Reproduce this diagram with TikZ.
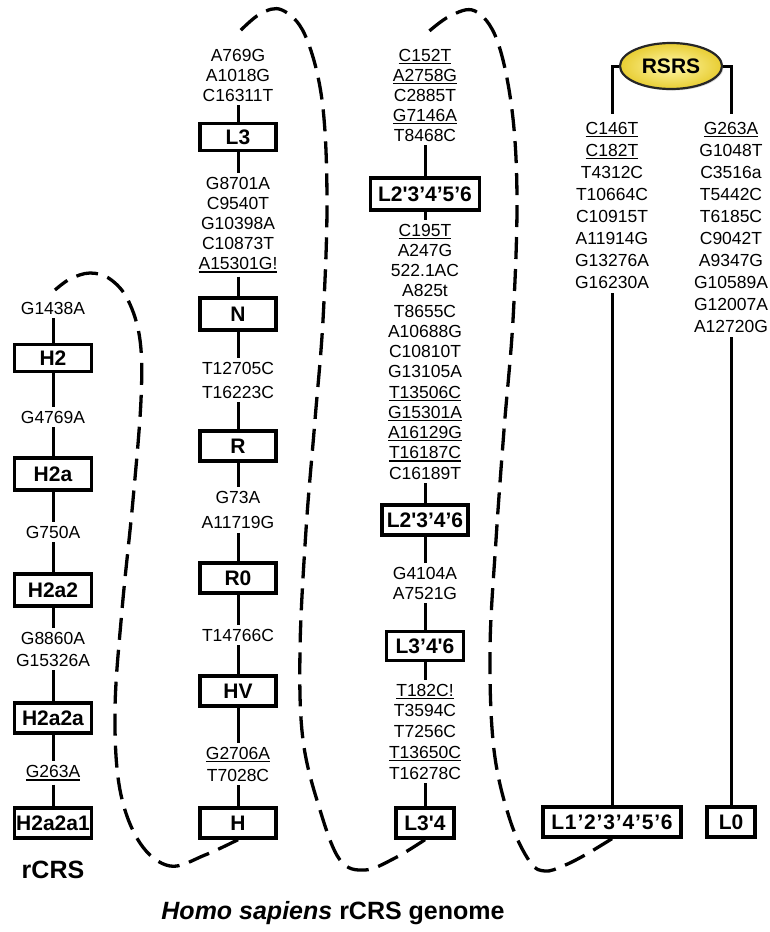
\documentclass[tikz,border=0pt]{standalone}
\usepackage{fontspec}
\newfontfamily\arial{Liberation Sans}
\usetikzlibrary{shapes.geometric,shadows}
\definecolor{ellin}{RGB}{255,248,170}
\definecolor{ellout}{RGB}{232,205,50}
\newsavebox\ulbox
\newcommand\uln[1]{\sbox\ulbox{#1}\rlap{\rule[-2.8pt]{\wd\ulbox}{1.2pt}}\usebox\ulbox}
\begin{document}
\begin{tikzpicture}[x=1pt,y=-1pt,
  mut/.style={font=\arial\fontsize{17.5}{20.3}\selectfont, align=center, inner sep=4pt},
  mutsp/.style={mut, font=\arial\fontsize{17.5}{#1}\selectfont},
  hg/.style={draw, line width=3.3pt, font=\arial\bfseries\fontsize{21}{24}\selectfont, inner sep=0pt, minimum height=30pt},
  conn/.style={line width=3pt},
  encl/.style={line width=3.3pt, dash pattern=on 22pt off 10pt, line cap=butt},
]
\useasboundingbox (0,0) rectangle (769,932);

% column 1
\node[mut] (a1) at (53,308) {G1438A};
\node[hg, minimum width=77pt, minimum height=27pt] (H2) at (53,358) {H2};
\node[mut] (a2) at (53,417) {G4769A};
\node[hg, minimum width=77pt, minimum height=32pt] (H2a) at (53,474) {H2a};
\node[mut] (a3) at (53,532) {G750A};
\node[hg, minimum width=77pt, minimum height=32pt] (H2a2) at (53,590) {H2a2};
\node[mutsp=22] (a4) at (53,649) {G8860A\\G15326A};
\node[hg, minimum width=77pt] (H2a2a) at (53,718) {H2a2a};
\node[mut] (a5) at (53,773) {\uln{G263A}};
\node[hg, minimum width=77pt] (H2a2a1) at (53,823) {H2a2a1};
\node[font=\arial\bfseries\fontsize{25}{28}\selectfont] (rcrs) at (53,870) {rCRS};

% column 2
\node[mutsp=20] (b1) at (238,75) {A769G\\A1018G\\C16311T};
\node[hg, minimum width=76pt, minimum height=27pt] (L3) at (238,137) {L3};
\node[mutsp=20] (b2) at (238,225) {G8701A\\C9540T\\G10398A\\C10873T\\\uln{A15301G!}};
\node[hg, minimum width=76pt, minimum height=32pt] (N) at (238,314) {N};
\node[mutsp=24] (b3) at (238,380) {T12705C\\T16223C};
\node[hg, minimum width=76pt] (R) at (238,446) {R};
\node[mutsp=25] (b4) at (238,510) {G73A\\A11719G};
\node[hg, minimum width=76pt] (R0) at (238,578) {R0};
\node[mut] (b5) at (238,635) {T14766C};
\node[hg, minimum width=76pt] (HV) at (238,691) {HV};
\node[mutsp=22] (b6) at (238,764) {\uln{G2706A}\\T7028C};
\node[hg, minimum width=76pt] (H) at (238,823) {H};

% column 3
\node[mutsp=20] (c1) at (425,95) {\uln{C152T}\\\uln{A2758G}\\C2885T\\\uln{G7146A}\\T8468C};
\node[hg, minimum width=109pt, minimum height=32pt] (L23456) at (425,194) {L2'3’4’5’6};
\node[mutsp=20.25] (c2) at (425,351.5) {\uln{C195T}\\A247G\\522.1AC\\A825t\\T8655C\\A10688G\\C10810T\\G13105A\\\uln{T13506C}\\\uln{G15301A}\\\uln{A16129G}\\\uln{T16187C}\\C16189T};
\node[hg, minimum width=86pt] (L2346) at (425,520) {L2'3’4’6};
\node[mutsp=20] (c3) at (425,583) {G4104A\\A7521G};
\node[hg, minimum width=77pt, minimum height=29pt] (L346) at (425,646) {L3’4'6};
\node[mutsp=20.75] (c4) at (425,731.5) {\uln{T182C!}\\T3594C\\T7256C\\\uln{T13650C}\\T16278C};
\node[hg, minimum width=58pt] (L34) at (425,823) {L3'4};

% column 4
\node[ellipse, draw=black!85, line width=2.2pt, minimum width=102pt, minimum height=46pt,
      inner color=ellin, outer color=ellout,
      drop shadow={opacity=0.3, shadow xshift=1.5pt, shadow yshift=-1.5pt},
      font=\arial\bfseries\fontsize{21}{24}\selectfont] (RSRS) at (671,66) {RSRS};
\node[mutsp=22.1] (d1) at (612,205.5) {\uln{C146T}\\\uln{C182T}\\T4312C\\T10664C\\C10915T\\A11914G\\G13276A\\G16230A};
\node[mutsp=22.1] (d2) at (731,227.5) {\uln{G263A}\\G1048T\\C3516a\\T5442C\\T6185C\\C9042T\\A9347G\\G10589A\\G12007A\\A12720G};
\node[hg, minimum width=138pt, font=\arial\bfseries\fontsize{21}{24}\selectfont\addfontfeature{LetterSpace=4}] (L1) at (612,822) {L1’2’3’4’5’6};
\node[hg, minimum width=48pt] (L0) at (731,822) {L0};

% title
\node[font=\arial\bfseries\fontsize{25}{28}\selectfont] (title) at (333,913) {\textit{Homo sapiens} rCRS genome};

% connectors
\foreach \p/\q in {a1/H2, H2/a2, a2/H2a, H2a/a3, a3/H2a2, H2a2/a4, a4/H2a2a, H2a2a/a5, a5/H2a2a1,
  b1/L3, L3/b2, b2/N, N/b3, b3/R, R/b4, b4/R0, R0/b5, b5/HV, HV/b6, b6/H,
  c1/L23456, L23456/c2, c2/L2346, L2346/c3, c3/L346, L346/c4, c4/L34,
  d1/L1, d2/L0}
  \draw[conn] (\p) -- (\q);
\draw[conn, shorten >=4pt] (RSRS.west) -| (d1.north);
\draw[conn, shorten >=4pt] (RSRS.east) -| (d2.north);

% dashed enclosures
\draw[encl] plot[smooth, tension=0.6] coordinates {(H.south) (205,855) (170,866) (140,843) (120,790) (115,710) (122,610) (133,500) (141,400) (140,340) (128,300) (110,279) (90,273) (70,279) (55,290)};
\draw[encl] plot[smooth, tension=0.6] coordinates {(L34.south) (395,858) (365,870) (340,860) (320,810) (303,740) (300,650) (306,530) (315,420) (323,320) (327,200) (322,100) (305,35) (282,10) (260,14) (238,33)};
\draw[encl] plot[smooth, tension=0.6] coordinates {(L1.south) (585,855) (563,866) (545,871) (530,862) (510,820) (494,750) (490,650) (496,540) (504,430) (513,320) (517,200) (512,110) (497,40) (475,11) (450,16) (427,33)};
\end{tikzpicture}
\end{document}
